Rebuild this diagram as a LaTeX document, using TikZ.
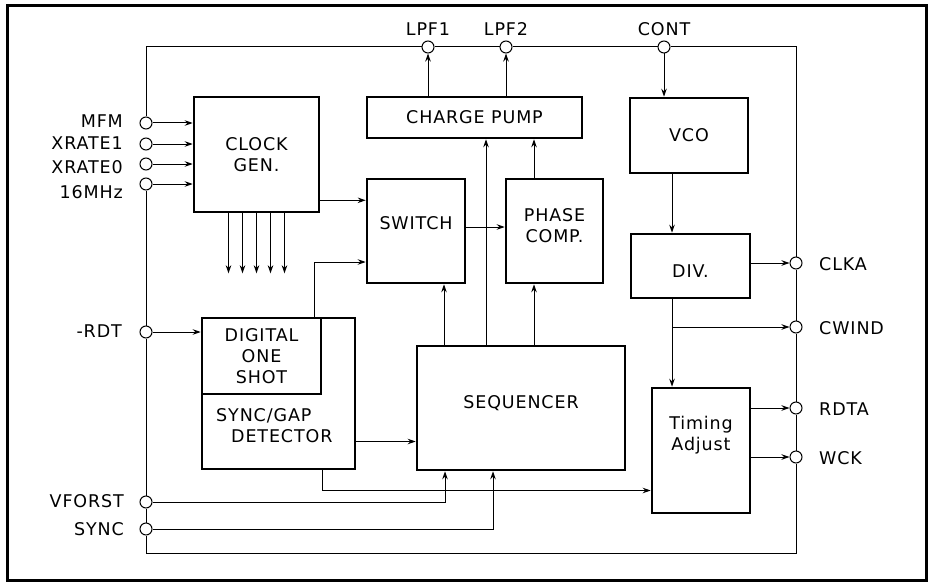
\documentclass[tikz,border=0pt]{standalone}
\usepackage{fontspec}
\setsansfont[LetterSpace=5]{DejaVu Sans}
\usepackage{tikz}
\usetikzlibrary{arrows.meta,positioning,calc}

\begin{document}
\begin{tikzpicture}[x=1pt, y=-1pt,
    font=\sffamily\fontsize{17.5}{21}\selectfont,
    blk/.style={draw, line width=2.6pt, inner sep=0pt, align=center},
    pin/.style={draw, circle, fill=white, line width=1pt, minimum size=12pt, inner sep=0pt},
    conn/.style={line width=1pt, -{Stealth[length=8pt,width=5.5pt]}},
    bus/.style={line width=1pt},
    lbl/.style={inner sep=0pt}]
    \useasboundingbox (0,0) rectangle (928,583);

    % Frame
    \draw[line width=3pt] (7,6) rectangle (926,580);

    % Blocks
    \node[blk, minimum width=125pt, minimum height=115pt] (clk) at (256.5,154.5) {CLOCK\\GEN.};
    \node[blk, minimum width=215pt, minimum height=41pt] (cp) at (474.5,117.5) {CHARGE PUMP};
    \node[blk, minimum width=118pt, minimum height=75pt] (vco) at (689,135.5) {VCO};
    \node[blk, minimum width=98pt, minimum height=104pt,
          label={[lbl, yshift=8pt]center:SWITCH}] (sw) at (416,231) {};
    \node[blk, minimum width=97pt, minimum height=104pt,
          label={[lbl, yshift=5pt, align=center]center:PHASE\\COMP.}] (pc) at (554.5,231) {};
    \node[blk, minimum width=119pt, minimum height=64pt,
          label={[lbl, yshift=-5pt]center:DIV.}] (div) at (690.5,266) {};
    \node[blk, minimum width=153pt, minimum height=151pt] (sg) at (278.5,393.5) {};
    \node[blk, minimum width=119pt, minimum height=76pt] (dos) at (261.5,356) {DIGITAL\\ONE\\SHOT};
    \node[lbl, align=left, anchor=west] (sgt) at (216,426) {SYNC/GAP\\\hspace*{15pt}DETECTOR};
    \node[blk, minimum width=208pt, minimum height=124pt,
          label={[lbl, yshift=5pt]center:SEQUENCER}] (seq) at (521,408) {};
    \node[blk, minimum width=98pt, minimum height=125pt,
          label={[lbl, yshift=15pt, align=center]center:Timing\\Adjust}] (ta) at (701,450.5) {};

    % Pins
    \node[pin] (pMFM) at (146,123) {};
    \node[pin] (pXR1) at (146,144) {};
    \node[pin] (pXR0) at (146,164) {};
    \node[pin] (p16) at (146,184) {};
    \node[pin] (pRDT) at (146,332) {};
    \node[pin] (pVF) at (146,502) {};
    \node[pin] (pSY) at (146,529) {};
    \node[pin] (pL1) at (428,47) {};
    \node[pin] (pL2) at (506,47) {};
    \node[pin] (pCT) at (664,47) {};
    \node[pin] (pCK) at (796,263) {};
    \node[pin] (pCW) at (796,327) {};
    \node[pin] (pRD) at (796,408) {};
    \node[pin] (pWK) at (796,457) {};

    % Pin names
    \node[lbl, anchor=east] (tMFM) at (123,121) {MFM};
    \node[lbl, anchor=east] (tXR1) at (123,143) {XRATE1};
    \node[lbl, anchor=east] (tXR0) at (123,167) {XRATE0};
    \node[lbl, anchor=east] (t16) at (123,192) {16MHz};
    \node[lbl, anchor=east] (tRDT) at (122,331) {-RDT};
    \node[lbl, anchor=east] (tVF) at (124,501) {VFORST};
    \node[lbl, anchor=east] (tSY) at (124,529) {SYNC};
    \node[lbl, anchor=south] (tL1) at (428,36) {LPF1};
    \node[lbl, anchor=south] (tL2) at (506,36) {LPF2};
    \node[lbl, anchor=south] (tCT) at (664,36) {CONT};
    \node[lbl, anchor=west] (tCK) at (819,264) {CLKA};
    \node[lbl, anchor=west] (tCW) at (819,328) {CWIND};
    \node[lbl, anchor=west] (tRD) at (819,409) {RDTA};
    \node[lbl, anchor=west] (tWK) at (819,458) {WCK};

    % Supply ring
    \coordinate (cTL) at (146,47);
    \coordinate (cTR) at (796,47);
    \coordinate (cBL) at (146,553);
    \coordinate (cBR) at (796,553);
    \draw[bus] (pMFM) -- (cTL) -- (pL1) -- (pL2) -- (pCT) -- (cTR) -- (pCK)
        -- (pCW) -- (pRD) -- (pWK) -- (cBR) -- (cBL) -- (pSY) -- (pVF)
        -- (pRDT) -- (p16);

    % Clock generator
    \foreach \p in {pMFM,pXR1,pXR0,p16}
        \draw[conn] (\p) -- (\p -| clk.west);
    \coordinate (clkout) at ([yshift=13pt]clk.south east);
    \draw[conn] (clkout) -- (clkout -| sw.west);
    \foreach \dx in {-28,-14,0,14,28}
        \draw[conn] ([xshift=\dx pt]clk.south) -- ++(0,60);

    % Charge pump and VCO
    \draw[conn] (cp.north -| pL1) -- (pL1);
    \draw[conn] (cp.north -| pL2) -- (pL2);
    \draw[conn] (pCT) -- (pCT |- vco.north);
    \coordinate (vd) at ([xshift=-17pt]vco.south);
    \draw[conn] (vd) -- (vd |- div.north);
    \draw[conn] (div.east |- pCK) -- (pCK);
    \coordinate (dt) at (vd |- div.south);
    \draw[conn] (dt) -- (dt |- ta.north);
    \draw[conn] (dt |- pCW) -- (pCW);
    \draw[conn] (ta.east |- pRD) -- (pRD);
    \draw[conn] (ta.east |- pWK) -- (pWK);

    % Switch, phase comparator, sequencer
    \draw[conn] ([yshift=4pt]sw.east) -- ([yshift=4pt]pc.west);
    \coordinate (sq1) at ([xshift=-77pt]seq.north);
    \coordinate (sq2) at ([xshift=-35pt]seq.north);
    \coordinate (sq3) at ([xshift=13pt]seq.north);
    \draw[conn] (sq1) -- (sq1 |- sw.south);
    \draw[conn] (sq2) -- (sq2 |- cp.south);
    \draw[conn] (sq3) -- (sq3 |- pc.south);
    \draw[conn] (sq3 |- pc.north) -- (sq3 |- cp.south);

    % Read data path
    \draw[conn] (pRDT) -- (pRDT -| dos.west);
    \coordinate (dw) at ([xshift=-8pt]dos.north east);
    \draw[conn] (dw) |- ([yshift=-31pt]sw.west);
    \coordinate (gs) at ([yshift=-48pt]sg.east);
    \draw[conn] (gs) -- (gs -| seq.west);
    \coordinate (gt) at ([xshift=-34pt]sg.south east);
    \draw[conn] (gt) |- ([yshift=-40pt]ta.west);
    \draw[conn] (pVF) -| ([xshift=-76pt]seq.south);
    \draw[conn] (pSY) -| ([xshift=-28pt]seq.south);
\end{tikzpicture}
\end{document}
